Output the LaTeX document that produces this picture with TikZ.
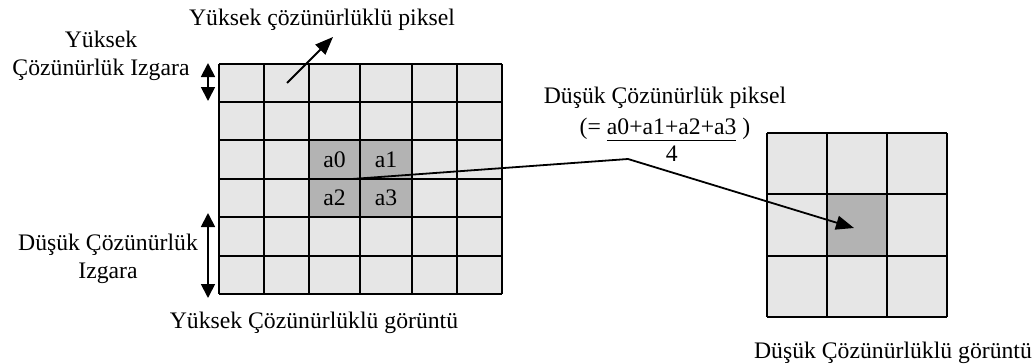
\documentclass[tikz,border=0pt]{standalone}
\usepackage{fontspec}
\setmainfont{Liberation Serif}
\usetikzlibrary{arrows.meta,positioning}
\definecolor{celllight}{HTML}{E6E6E6}
\definecolor{celldark}{HTML}{B3B3B3}

\begin{document}
\begin{tikzpicture}[x=0.5pt,y=-0.5pt,>=stealth,
        font=\fontsize{11.85}{14}\selectfont,
        lbl/.style={align=center,inner sep=0pt},
        hicell/.style={fill=celldark,inner sep=0pt,minimum height=19.5pt},
        gridline/.style={line width=1pt},
        conn/.style={line width=0.9pt,-{Triangle[length=9pt,width=7pt]}},
        span/.style={line width=0.9pt,{Triangle[length=7pt,width=7pt]}-{Triangle[length=7pt,width=7pt]}}]
        \useasboundingbox (0,0) rectangle (1034,364);

        % high resolution image (6x6)
        \fill[celllight] (219,64) rectangle (502,294);
        \node[hicell,minimum width=25.5pt] (a0) at (334.5,159.5) {a0};
        \node[hicell,minimum width=26pt] (a1) at (386,159.5) {a1};
        \node[hicell,minimum width=25.5pt] (a2) at (334.5,198) {a2};
        \node[hicell,minimum width=26pt] (a3) at (386,198) {a3};
        \foreach \x in {219,264,309,360,412,457,502}
            \draw[gridline] (\x,64) -- (\x,294);
        \foreach \y in {64,102,140,179,217,256,294}
            \draw[gridline] (219,\y) -- (502,\y);

        % low resolution image (3x3)
        \fill[celllight] (767,133) rectangle (947,317);
        \node[fill=celldark,inner sep=0pt,minimum width=30pt,minimum height=31pt] (lowpix) at (857,225) {};
        \foreach \x in {767,827,887,947}
            \draw[gridline] (\x,133) -- (\x,317);
        \foreach \y in {133,194,256,317}
            \draw[gridline] (767,\y) -- (947,\y);

        % labels
        \node[lbl] (hipixlbl) at (322,20) {Yüksek çözünürlüklü piksel};
        \node[lbl] (higridlbl) at (101,56) {Yüksek\\Çözünürlük Izgara};
        \node[lbl] (logridlbl) at (108,259) {Düşük Çözünürlük\\Izgara};
        \node[lbl] (hicap) at (314,323) {Yüksek Çözünürlüklü görüntü};
        \node[lbl] (locap) at (893,353) {Düşük Çözünürlüklü görüntü};
        \node[lbl] (lopixlbl) at (665,98) {Düşük Çözünürlük piksel};
        \node[lbl,anchor=base] (formula) at (665,134)
            {(= \begin{tabular}[t]{@{}c@{}}a0+a1+a2+a3\\[-1pt]\hline\rule{0pt}{10pt}4\end{tabular} )};

        % connectors
        \coordinate (hipix) at (287,83);
        \coordinate (pixtip) at (333,37);
        \coordinate (blockc) at (352,179);
        \coordinate (bend) at (628,159);
        \coordinate (hitop) at (208,63);
        \coordinate (hibot) at (208,101);
        \coordinate (lotop) at (208,213);
        \coordinate (lobot) at (208,298);

        \draw[conn] (hipix) -- (pixtip);
        \draw[conn] (blockc) -- (bend) -- ([shift={(-3,3)}]lowpix.center);
        \draw[span] (hitop) -- (hibot);
        \draw[span] (lotop) -- (lobot);
    \end{tikzpicture}
\end{document}
